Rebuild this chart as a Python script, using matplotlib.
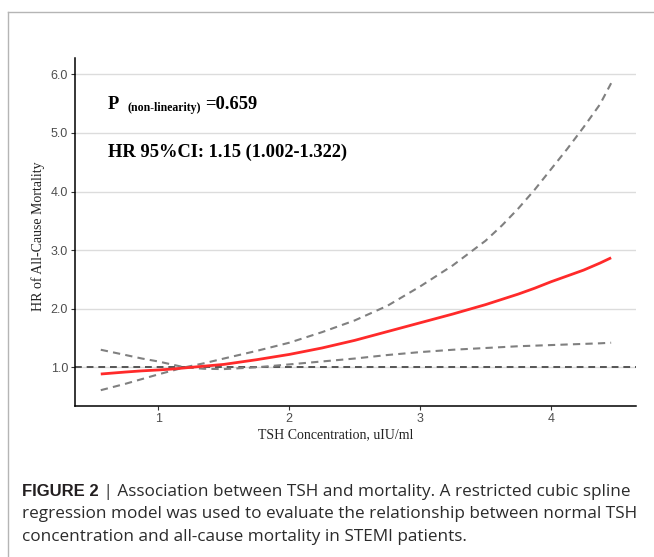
import matplotlib
matplotlib.use("Agg")
import matplotlib.pyplot as plt
from matplotlib.lines import Line2D

# TSH values (x)
tsh = [0.56, 0.75, 0.875, 1.0, 1.1, 1.2, 1.35, 1.5, 1.75, 2.0, 2.25, 2.5, 2.75, 3.0,
       3.25, 3.5, 3.625, 3.75, 3.875, 4.0, 4.125, 4.25, 4.375, 4.46]
# hazard ratio and 95% CI
hr = [0.886, 0.92, 0.94, 0.955, 0.97, 0.99, 1.02, 1.05, 1.13, 1.22, 1.33, 1.46, 1.61, 1.76,
      1.91, 2.07, 2.16, 2.25, 2.35, 2.46, 2.56, 2.66, 2.78, 2.87]
hr_upper = [0.61, 0.72, 0.80, 0.88, 0.94, 1.0, 1.07, 1.15, 1.28, 1.42, 1.60, 1.80, 2.05, 2.38,
            2.74, 3.16, 3.42, 3.71, 4.03, 4.38, 4.73, 5.10, 5.49, 5.85]
hr_lower = [1.30, 1.21, 1.15, 1.10, 1.05, 1.0, 0.975, 0.97, 1.00, 1.05, 1.10, 1.15, 1.21, 1.26,
            1.30, 1.33, 1.345, 1.36, 1.37, 1.38, 1.39, 1.40, 1.41, 1.42]

x_ticks = [1, 2, 3, 4]
y_ticks = [1.0, 2.0, 3.0, 4.0, 5.0, 6.0]

W, H = 654, 557
fig = plt.figure(figsize=(W / 100, H / 100), dpi=100)

def fx(px):
    return px / W

def fy(py):
    return 1 - py / H

# рамка страницы журнала
fig.add_artist(Line2D([fx(8), 1], [fy(12), fy(12)], color="#b5b5b5", lw=1.0))
fig.add_artist(Line2D([fx(8), fx(8)], [fy(12), 0], color="#b5b5b5", lw=1.0))

ax = fig.add_axes([fx(75), fy(406), fx(636) - fx(75), fy(58) - fy(406)])
ax.set_xlim(0.363, 4.65)
ax.set_ylim(0.34, 6.28)

ax.set_yticks(y_ticks)
ax.set_yticklabels([f"{v:.1f}" for v in y_ticks])
ax.set_xticks(x_ticks)
ax.set_xticklabels([str(v) for v in x_ticks])
ax.grid(axis="y", color="#dcdcdc", lw=1.0)
ax.set_axisbelow(True)
for s in ["top", "right"]:
    ax.spines[s].set_visible(False)
for s in ["left", "bottom"]:
    ax.spines[s].set_color("black")
    ax.spines[s].set_linewidth(1.1)
ax.tick_params(length=3, width=0.8, color="#333333", labelcolor="#4d4d4d",
               labelsize=9, pad=2)
for lab in ax.get_xticklabels() + ax.get_yticklabels():
    lab.set_family("Liberation Sans")

ax.axhline(1.0, color="#555555", lw=1.4, dashes=(3.5, 2.5))
ax.plot(tsh, hr_upper, color="#808080", lw=1.5, dashes=(3.5, 2.5))
ax.plot(tsh, hr_lower, color="#808080", lw=1.5, dashes=(3.5, 2.5))
ax.plot(tsh, hr, color="#ff2a2a", lw=2.0, solid_capstyle="butt")

serif = "Liberation Serif"
fig.text(fx(336), fy(438), "TSH Concentration, uIU/ml", family=serif, fontsize=10,
         ha="center", va="baseline", color="#222222")
fig.text(fx(38), fy(236), "HR of All-Cause Mortality", family=serif, fontsize=10,
         rotation=90, ha="center", va="center", color="#222222")

# аннотации
r = fig.canvas.get_renderer()
t1 = fig.text(fx(108), fy(109), "P", family=serif, weight="bold", fontsize=13.3,
              va="baseline", color="black")
bb = t1.get_window_extent(r)
t2 = fig.text(fx(bb.x1 + 8), fy(111), "(non-linearity)", family=serif, weight="bold",
              fontsize=8.5, va="baseline", color="black")
bb = t2.get_window_extent(r)
fig.text(fx(bb.x1 + 4), fy(109), "=0.659", family=serif, weight="bold", fontsize=13.3,
         va="baseline", color="black")
fig.text(fx(108), fy(157), "HR 95%CI: 1.15 (1.002-1.322)", family=serif, weight="bold",
         fontsize=13.3, va="baseline", color="black")

# подпись к рисунку
sans = "Liberation Sans"
cap_font = "Open Sans"
cap_lines = [
    "Association between TSH and mortality. A restricted cubic spline",
    "regression model was used to evaluate the relationship between normal TSH",
    "concentration and all-cause mortality in STEMI patients.",
]
tb = fig.text(fx(22), fy(496), "FIGURE 2", family=sans, weight="bold", fontsize=12,
              va="baseline", color="#231f20")
bb = tb.get_window_extent(r)
fig.text(fx(bb.x1), fy(496), " | " + cap_lines[0], family=cap_font, fontsize=12.3,
         va="baseline", color="#2b2b2b")
fig.text(fx(22), fy(518.5), cap_lines[1], family=cap_font, fontsize=12.3,
         va="baseline", color="#2b2b2b")
fig.text(fx(22), fy(541), cap_lines[2], family=cap_font, fontsize=12.3,
         va="baseline", color="#2b2b2b")

fig.savefig("out.png", dpi=100)
